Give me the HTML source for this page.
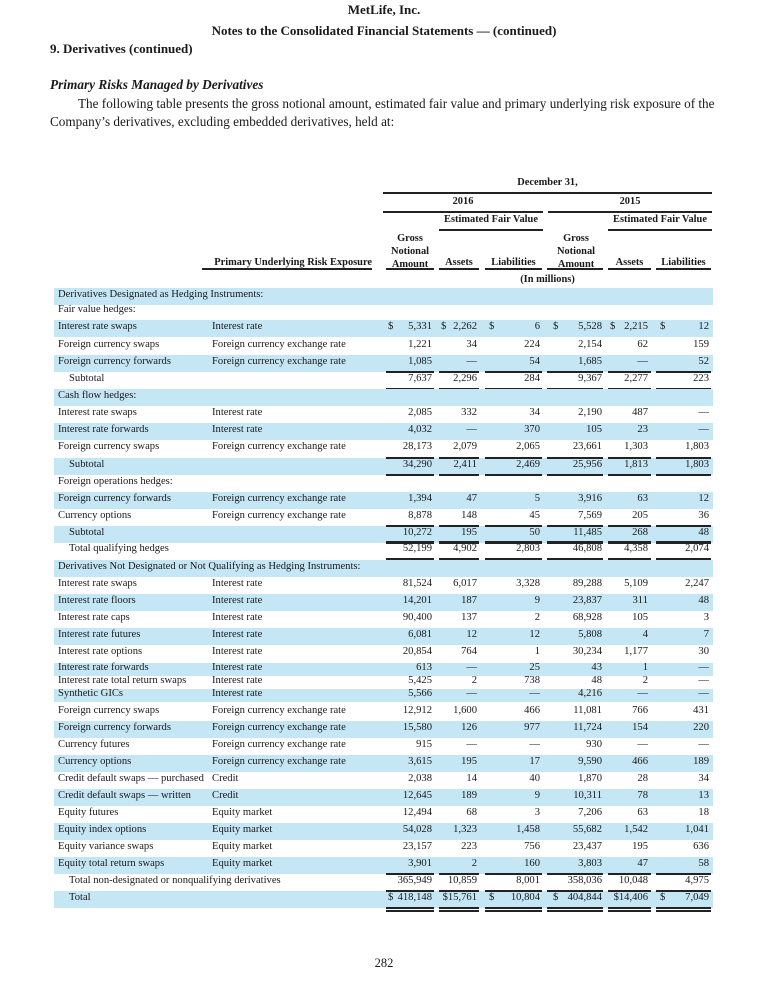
<!DOCTYPE html>
<html><head><meta charset="utf-8">
<style>
body{margin:0;width:768px;height:1004px;background:#fff;position:relative;overflow:hidden;font-family:"Liberation Serif",serif;color:#1a1a1a}
.a{position:absolute;white-space:nowrap;line-height:1}
.b{font-weight:bold}
.band{position:absolute;left:54px;width:659px;background:#c5e6f5}
.ln{position:absolute;height:1.5px;background:#222}
.t{font-size:10.6px}
.h{font-size:10.4px;font-weight:bold}
</style></head><body>
<div class="a b" style="left:0;width:768px;text-align:center;top:3px;font-size:13px">MetLife, Inc.</div>
<div class="a b" style="left:0;width:768px;text-align:center;top:24px;font-size:13px">Notes to the Consolidated Financial Statements — (continued)</div>
<div class="a b" style="left:50px;top:42px;font-size:13px">9. Derivatives (continued)</div>
<div class="a b" style="left:50px;top:78px;font-size:13.3px;font-style:italic">Primary Risks Managed by Derivatives</div>
<div class="a" style="left:78px;top:97px;font-size:13.2px">The following table presents the gross notional amount, estimated fair value and primary underlying risk exposure of the</div>
<div class="a" style="left:50px;top:115px;font-size:13.2px">Company’s derivatives, excluding embedded derivatives, held at:</div>

<div class="a h" style="left:383px;width:329px;text-align:center;top:178px">December 31,</div>
<div class="ln" style="left:383px;width:329px;top:192px"></div>
<div class="a h" style="left:383px;width:160px;text-align:center;top:197px">2016</div>
<div class="a h" style="left:548px;width:164px;text-align:center;top:197px">2015</div>
<div class="ln" style="left:383px;width:160px;top:211px"></div>
<div class="ln" style="left:548px;width:164px;top:211px"></div>
<div class="a h" style="left:439px;width:104px;text-align:center;top:215px">Estimated Fair Value</div>
<div class="a h" style="left:608px;width:104px;text-align:center;top:215px">Estimated Fair Value</div>
<div class="ln" style="left:439px;width:104px;top:229px"></div>
<div class="ln" style="left:608px;width:104px;top:229px"></div>
<div class="a h" style="left:384px;width:52px;text-align:center;top:232px;line-height:13px;white-space:normal">Gross Notional Amount</div>
<div class="a h" style="left:550px;width:52px;text-align:center;top:232px;line-height:13px;white-space:normal">Gross Notional Amount</div>
<div class="a h" style="left:202px;width:170px;text-align:right;top:258px">Primary Underlying Risk Exposure</div>
<div class="a h" style="left:439px;width:40px;text-align:center;top:258px">Assets</div>
<div class="a h" style="left:485px;width:57px;text-align:center;top:258px">Liabilities</div>
<div class="a h" style="left:608px;width:43px;text-align:center;top:258px">Assets</div>
<div class="a h" style="left:656px;width:55px;text-align:center;top:258px">Liabilities</div>
<div class="a h" style="left:383px;width:329px;text-align:center;top:275px">(In millions)</div>
<div class="a" style="left:0;width:768px;text-align:center;top:957px;font-size:12.5px">282</div>

<div id="tbl"></div>
<script>
const labels=["Derivatives Designated as Hedging Instruments:","Fair value hedges:","Interest rate swaps","Foreign currency swaps","Foreign currency forwards","Subtotal","Cash flow hedges:","Interest rate swaps","Interest rate forwards","Foreign currency swaps","Subtotal","Foreign operations hedges:","Foreign currency forwards","Currency options","Subtotal","Total qualifying hedges","Derivatives Not Designated or Not Qualifying as Hedging Instruments:","Interest rate swaps","Interest rate floors","Interest rate caps","Interest rate futures","Interest rate options","Interest rate forwards","Interest rate total return swaps","Synthetic GICs","Foreign currency swaps","Foreign currency forwards","Currency futures","Currency options","Credit default swaps — purchased","Credit default swaps — written","Equity futures","Equity index options","Equity variance swaps","Equity total return swaps","Total non-designated or nonqualifying derivatives","Total"];
const IR="Interest rate",FX="Foreign currency exchange rate",CR="Credit",EQ="Equity market";
const risks=["","",IR,FX,FX,"","",IR,IR,FX,"","",FX,FX,"","","",IR,IR,IR,IR,IR,IR,IR,IR,FX,FX,FX,FX,CR,CR,EQ,EQ,EQ,EQ,"",""];
const notional2016=["","","5,331","1,221","1,085","7,637","","2,085","4,032","28,173","34,290","","1,394","8,878","10,272","52,199","","81,524","14,201","90,400","6,081","20,854","613","5,425","5,566","12,912","15,580","915","3,615","2,038","12,645","12,494","54,028","23,157","3,901","365,949","418,148"];
const assets2016=["","","2,262","34","—","2,296","","332","—","2,079","2,411","","47","148","195","4,902","","6,017","187","137","12","764","—","2","—","1,600","126","—","195","14","189","68","1,323","223","2","10,859","$15,761"];
const liab2016=["","","6","224","54","284","","34","370","2,065","2,469","","5","45","50","2,803","","3,328","9","2","12","1","25","738","—","466","977","—","17","40","9","3","1,458","756","160","8,001","10,804"];
const notional2015=["","","5,528","2,154","1,685","9,367","","2,190","105","23,661","25,956","","3,916","7,569","11,485","46,808","","89,288","23,837","68,928","5,808","30,234","43","48","4,216","11,081","11,724","930","9,590","1,870","10,311","7,206","55,682","23,437","3,803","358,036","404,844"];
const assets2015=["","","2,215","62","—","2,277","","487","23","1,303","1,813","","63","205","268","4,358","","5,109","311","105","4","1,177","1","2","—","766","154","—","466","28","78","63","1,542","195","47","10,048","$14,406"];
const liab2015=["","","12","159","52","223","","—","—","1,803","1,803","","12","36","48","2,074","","2,247","48","3","7","30","—","—","—","431","220","—","189","34","13","18","1,041","636","58","4,975","7,049"];
const ys=[296,311,328,346,363,380,397,414,431,448,466,483,500,517,534,550,568,585,602,619,636,653,669,682,695,712,729,746,763,780,797,814,831,848,865,882,899];
const shaded=[1,0,1,0,1,0,1,0,1,0,1,0,1,0,1,0,1,0,1,0,1,0,1,0,1,0,1,0,1,0,1,0,1,0,1,0,1];
const kinds=["h","h","","","","s","h","","","","s","h","","","s","s","h","","","","","","","","","","","","","","","","","","","s","t"];
const cols=[notional2016,assets2016,liab2016,notional2015,assets2015,liab2015];
const rights=[432,477,540,602,648,709];
const segs=[[386,434],[439,479],[485,542],[547,603],[608,651],[656,711]];
const dollars=[388,null,489,553,null,660];
const T=document.getElementById('tbl');
function div(cls,st,txt){const d=document.createElement('div');d.className=cls;d.style.cssText=st;if(txt!=null)d.textContent=txt;T.appendChild(d);return d;}
ys.forEach((y,i)=>{
  const compact=(i>=22&&i<=24);
  const hh=compact?13:17;
  if(shaded[i]){const b=div('band','top:'+(y-hh/2)+'px;height:'+hh+'px');
    
    }
  const k=kinds[i];
  const indent=(k==='s'||k==='t')?69:58;
  const l=div('a t','left:'+indent+'px;top:'+(y-6)+'px',labels[i]);
  
  
  if(risks[i]){const r=div('a t','left:212px;top:'+(y-6)+'px',risks[i]);
    
    }
  cols.forEach((c,j)=>{
    if(!c[i])return;
    const v=div('a t','left:'+(rights[j]-80)+'px;width:80px;text-align:right;top:'+(y-6)+'px',c[i]);
    
    
    if((i===2||i===36)&&dollars[j]!==null){const s=div('a t','left:'+dollars[j]+'px;top:'+(y-6)+'px','$');
      
      }
    if(i===2&&(j===1||j===4)){const s=div('a t','left:'+(segs[j][0]+2)+'px;top:'+(y-6)+'px','$');
      
      }
  });
  if(k==='s'||k==='t'){
    segs.forEach(sg=>{
      const a=div('ln','left:'+sg[0]+'px;width:'+(sg[1]-sg[0])+'px;top:'+(y-9)+'px');
      
      
      const b=div('ln','left:'+sg[0]+'px;width:'+(sg[1]-sg[0])+'px;top:'+(y+8)+'px');
      
      
      if(k==='t'){const c2=div('ln','left:'+sg[0]+'px;width:'+(sg[1]-sg[0])+'px;top:'+(y+11)+'px');
        
        }
    });
  }
});
[[202,372]].concat(segs).forEach(sg=>{
  const d=div('ln','left:'+sg[0]+'px;width:'+(sg[1]-sg[0])+'px;top:268px');
  
  
});
</script>
</body></html>
